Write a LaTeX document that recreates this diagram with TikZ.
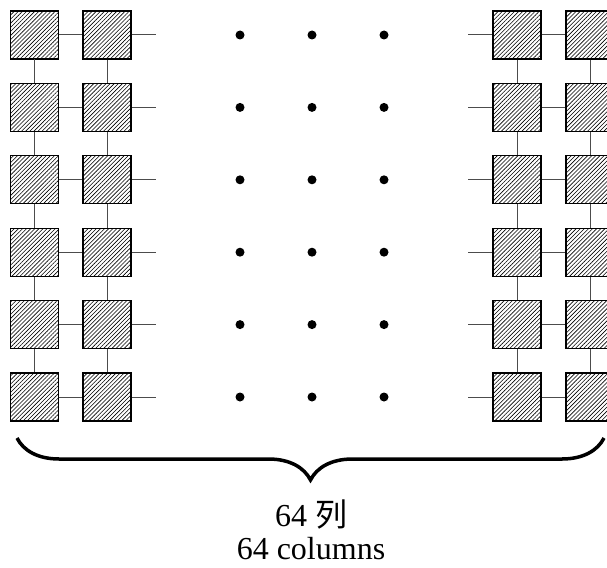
\documentclass[tikz,border=0pt]{standalone}
\usepackage{fontspec}
\setmainfont{Liberation Serif}
\newfontfamily\cjk{Noto Sans CJK SC}
\usetikzlibrary{patterns.meta,decorations.pathreplacing}

\begin{document}
\begin{tikzpicture}[x=1pt,y=-1pt,
    cell/.style={draw,line width=1.2pt,
      pattern={Lines[angle=45,distance=2.9pt,line width=0.6pt]},
      minimum size=48pt,inner sep=0pt},
    wire/.style={line width=1pt,black!70},
    dot/.style={circle,fill,inner sep=0pt,minimum size=9pt}]
        \useasboundingbox (0,0) rectangle (607,567);

        \begin{scope}
        \clip (0,0) rectangle (607,567);
        % four columns of cells
        \foreach \c/\x in {L1/34.5,L2/107,R1/517,R2/590} {
          \foreach \i in {1,...,6} {
            \node[cell] (\c-\i) at (\x, {35+(\i-1)*72.4}) {};
          }
        }
        \end{scope}

        % vertical links
        \foreach \c in {L1,L2,R1,R2} {
          \foreach \i [evaluate=\i as \j using int(\i+1)] in {1,...,5} {
            \draw[wire] (\c-\i) -- (\c-\j);
          }
        }

        % horizontal links, stubs and dots
        \foreach \i in {1,...,6} {
          \coordinate (ls-\i) at (156, {35+(\i-1)*72.4});
          \coordinate (rs-\i) at (468, {35+(\i-1)*72.4});
          \draw[wire] (L1-\i) -- (L2-\i);
          \draw[wire] (R1-\i) -- (R2-\i);
          \draw[wire] (L2-\i) -- (ls-\i);
          \draw[wire] (rs-\i) -- (R1-\i);
          \foreach \k/\x in {1/240,2/312,3/384} {
            \node[dot] (d-\i-\k) at (\x, {35+(\i-1)*72.4}) {};
          }
        }

        % brace and caption
        \coordinate (bl) at (17,438);
        \coordinate (br) at (604,438);
        \draw[decorate,decoration={brace,mirror,amplitude=42pt},line width=3.5pt] (bl) -- (br);

        \node[anchor=base,align=center,font=\fontsize{32}{33}\selectfont] (lbl) at (311,559)
          {64 {\cjk 列}\\64 columns};
\end{tikzpicture}
\end{document}
